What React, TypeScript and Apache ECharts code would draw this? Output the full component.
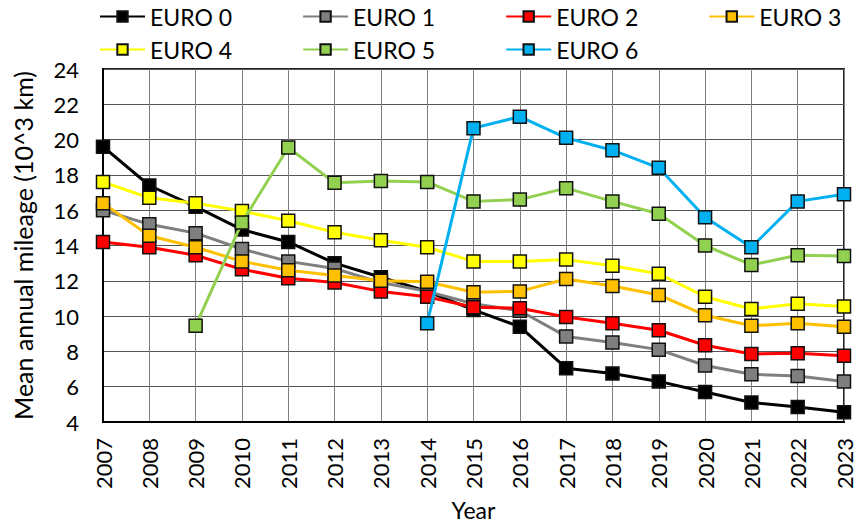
import React, { useEffect, useRef } from "react";
import * as echarts from "echarts";

const years = ["2007","2008","2009","2010","2011","2012","2013","2014","2015","2016","2017","2018","2019","2020","2021","2022","2023"];
const euro0 = [19.6, 17.4, 16.2, 14.9, 14.2, 13.0, 12.2, 11.4, 10.35, 9.4, 7.05, 6.75, 6.3, 5.7, 5.1, 4.85, 4.55];
const euro1 = [16.0, 15.2, 14.7, 13.8, 13.1, 12.7, 11.9, 11.4, 10.7, 10.3, 8.85, 8.5, 8.1, 7.2, 6.7, 6.6, 6.3];
const euro2 = [14.2, 13.9, 13.45, 12.65, 12.15, 11.9, 11.4, 11.1, 10.5, 10.45, 9.95, 9.6, 9.2, 8.35, 7.85, 7.9, 7.75];
const euro3 = [16.4, 14.55, 13.9, 13.1, 12.6, 12.3, 12.0, 11.95, 11.35, 11.4, 12.1, 11.7, 11.2, 10.05, 9.45, 9.6, 9.4];
const euro4 = [17.6, 16.7, 16.4, 15.95, 15.4, 14.75, 14.3, 13.9, 13.1, 13.1, 13.2, 12.85, 12.4, 11.1, 10.4, 10.7, 10.55];
const euro5 = [null, null, 9.45, 15.3, 19.55, 17.55, 17.65, 17.6, 16.5, 16.6, 17.25, 16.5, 15.8, 14.0, 12.9, 13.45, 13.4];
const euro6 = [null, null, null, null, null, null, null, 9.6, 20.65, 21.3, 20.1, 19.4, 18.4, 15.6, 13.9, 16.5, 16.9];
const seriesNames = ["EURO 0", "EURO 1", "EURO 2", "EURO 3", "EURO 4", "EURO 5", "EURO 6"];
const seriesColors = ["#000000", "#7f7f7f", "#ff0000", "#ffc000", "#ffff00", "#92d050", "#00b0f0"];
const seriesData = [euro0, euro1, euro2, euro3, euro4, euro5, euro6];
const yTicks = { min: 4, max: 24, interval: 2 };

const FONT = "Lato, 'Open Sans', sans-serif";

export default function App() {
  const ref = useRef<HTMLDivElement>(null);
  useEffect(() => {
    if (!ref.current) return;
    const chart = echarts.init(ref.current, null, { renderer: "svg" });
    const legendCommon = {
      left: 94,
      width: 780,
      itemWidth: 45,
      itemHeight: 13,
      itemGap: 70,
      textStyle: { fontSize: 23, color: "#000", fontFamily: FONT },
    };
    chart.setOption({
      animation: false,
      backgroundColor: "#fff",
      textStyle: { fontFamily: FONT },
      legend: [
        { ...legendCommon, top: 0, data: seriesNames.slice(0, 4) },
        { ...legendCommon, top: 33, data: seriesNames.slice(4) },
      ],
      grid: {
        left: 103,
        right: 13,
        top: 69,
        bottom: 102,
        outerBoundsMode: "none",
        containLabel: false,
        show: true,
        borderColor: "#222",
        borderWidth: 2,
      },
      xAxis: {
        type: "category",
        data: years,
        boundaryGap: false,
        name: "Year",
        nameLocation: "middle",
        nameGap: 76,
        nameTextStyle: { fontSize: 23, color: "#000", fontFamily: FONT },
        axisLine: { lineStyle: { color: "#000", width: 2 } },
        axisTick: { show: false },
        axisLabel: { rotate: 90, fontSize: 22, color: "#000", margin: 16, fontFamily: FONT, interval: 0 },
        splitLine: { show: true, lineStyle: { color: "#808080", width: 1 } },
      },
      yAxis: {
        type: "value",
        min: yTicks.min,
        max: yTicks.max,
        interval: yTicks.interval,
        name: "Mean annual mileage (10^3 km)",
        nameLocation: "middle",
        nameGap: 68,
        nameTextStyle: { fontSize: 25, color: "#000", fontFamily: FONT },
        axisLine: { show: true, lineStyle: { color: "#000", width: 2 } },
        axisTick: { show: false },
        axisLabel: { fontSize: 22, color: "#000", margin: 24, fontFamily: FONT },
        splitLine: { show: true, lineStyle: { color: "#555", width: 1 } },
      },
      series: seriesNames.map((name, i) => ({
        name,
        type: "line",
        data: seriesData[i],
        connectNulls: false,
        symbol: "rect",
        symbolSize: 13,
        itemStyle: { color: seriesColors[i], borderColor: "#111", borderWidth: 1.5 },
        lineStyle: { color: seriesColors[i], width: 3 },
        z: 2 + i,
      })),
    });
    return () => chart.dispose();
  }, []);
  return <div ref={ref} style={{ width: 857, height: 524, position: "absolute", left: 0, top: 0 }} />;
}
